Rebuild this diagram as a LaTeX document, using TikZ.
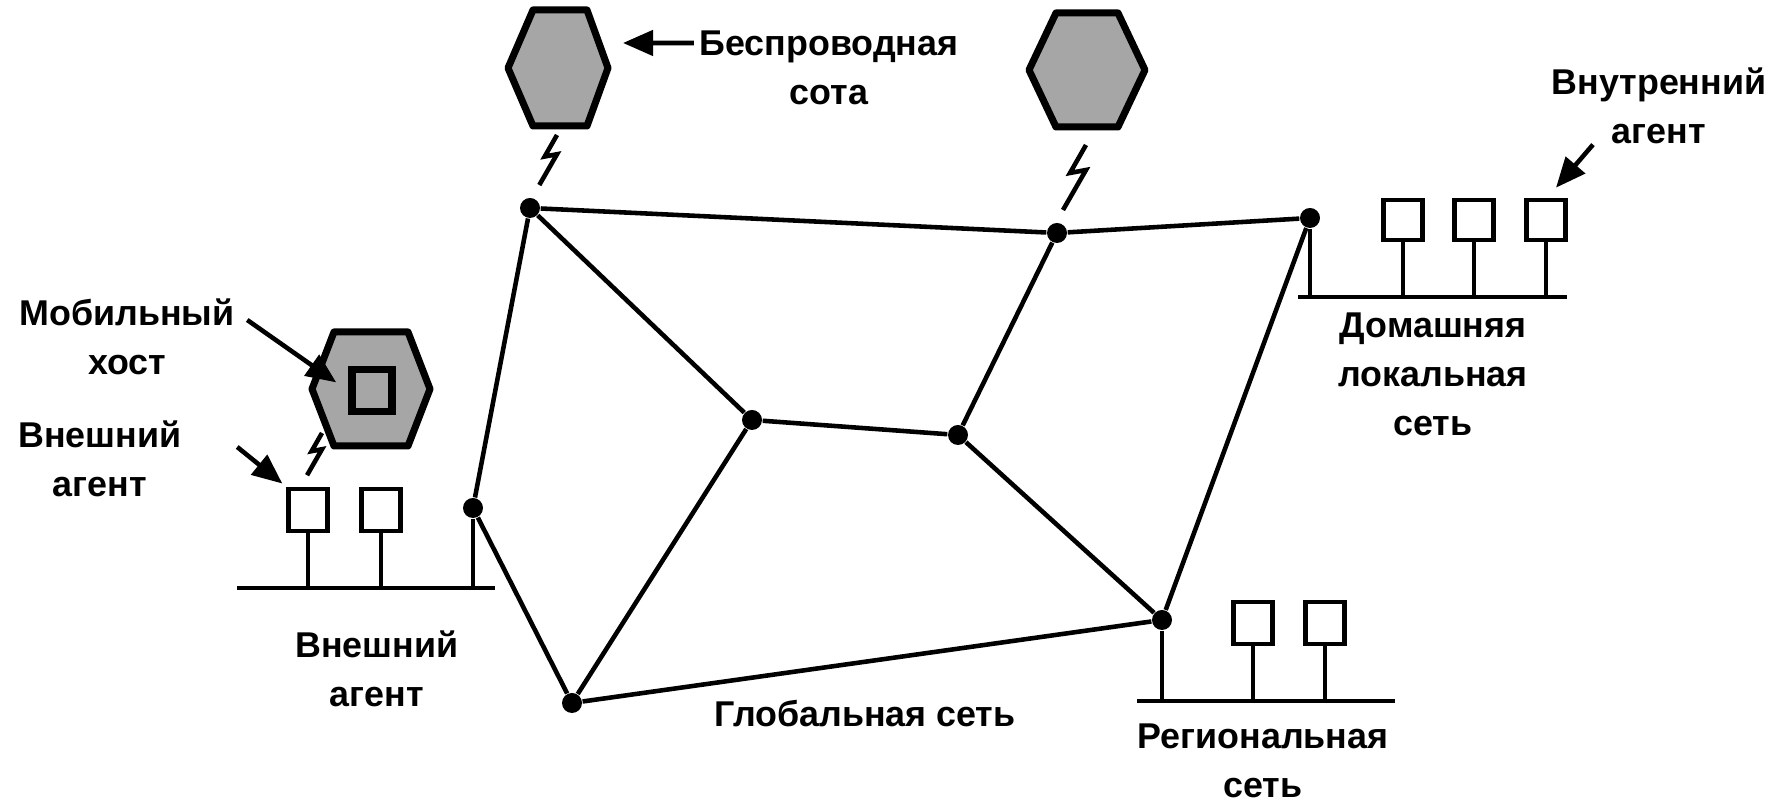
\documentclass[tikz,border=0pt]{standalone}
\usepackage{fontspec}
\setmainfont{Liberation Sans}
\usetikzlibrary{arrows.meta,positioning}

\begin{document}
\begin{tikzpicture}[
    router/.style={circle, fill=black, inner sep=0pt, minimum size=0.2cm},
    host/.style={rectangle, draw, line width=1.3pt, fill=white,
        minimum width=0.39cm, minimum height=0.42cm, inner sep=0pt},
    cell/.style={draw, line width=2pt, fill=black!35, line join=round},
    link/.style={line width=1.3pt},
    bus/.style={line width=1.4pt},
    lbl/.style={font=\fontsize{10.2}{14}\selectfont\bfseries, align=center,
        inner sep=0pt, anchor=north},
    arr/.style={-{Triangle[length=0.3cm, width=0.25cm]}, line width=1.3pt},
    bolt/.pic={\draw[line width=1.3pt] (0,0) -- (-0.16,-0.28) -- (0,-0.25) -- (-0.23,-0.65);}
]
    \useasboundingbox (0,0) rectangle (17.77,8.09);

    % Wireless cells
    \draw[cell] (5.08,7.41) -- (5.33,7.99) -- (5.87,7.99) -- (6.08,7.41) -- (5.87,6.83) -- (5.33,6.83) -- cycle;
    \draw[cell] (10.29,7.39) -- (10.56,7.96) -- (11.18,7.96) -- (11.45,7.39) -- (11.18,6.82) -- (10.56,6.82) -- cycle;
    \draw[cell] (3.12,4.20) -- (3.34,4.77) -- (4.08,4.77) -- (4.30,4.20) -- (4.08,3.63) -- (3.34,3.63) -- cycle;
    \node[host, fill=black!35, line width=2pt, minimum width=0.40cm] (mh) at (3.72,4.18) {};
    \pic[scale=0.77] at (5.57,6.74) {bolt};
    \pic at (10.86,6.64) {bolt};
    \pic[scale=0.65] at (3.22,3.76) {bolt};

    % Routers of the global network
    \node[router] (r1) at (5.30,6.01) {};
    \node[router] (r2) at (10.57,5.76) {};
    \node[router] (r3) at (13.10,5.91) {};
    \node[router] (r4) at (4.73,3.01) {};
    \node[router] (r5) at (7.52,3.89) {};
    \node[router] (r6) at (9.58,3.74) {};
    \node[router] (r7) at (5.72,1.06) {};
    \node[router] (r8) at (11.62,1.89) {};
    \draw[link] (r1) -- (r2) -- (r3);
    \draw[link] (r1) -- (r5) -- (r6) -- (r2);
    \draw[link] (r1) -- (r4) -- (r7) -- (r8) -- (r3);
    \draw[link] (r5) -- (r7);
    \draw[link] (r6) -- (r8);

    % Foreign LAN
    \coordinate (busF1) at (2.37,2.21);
    \coordinate (busF2) at (4.95,2.21);
    \draw[bus] (busF1) -- (busF2);
    \node[host] (h1) at (3.08,2.99) {};
    \node[host] (h2) at (3.81,2.99) {};
    \draw[link] (h1) -- (h1 |- busF1);
    \draw[link] (h2) -- (h2 |- busF1);
    \draw[link] (r4) -- (r4 |- busF1);

    % Home LAN
    \coordinate (busH1) at (12.98,5.12);
    \coordinate (busH2) at (15.67,5.12);
    \draw[bus] (busH1) -- (busH2);
    \node[host, minimum height=0.40cm] (h3) at (14.03,5.89) {};
    \node[host, minimum height=0.40cm] (h4) at (14.74,5.89) {};
    \node[host, minimum height=0.40cm] (h5) at (15.46,5.89) {};
    \draw[link] (h3) -- (h3 |- busH1);
    \draw[link] (h4) -- (h4 |- busH1);
    \draw[link] (h5) -- (h5 |- busH1);
    \draw[link] (r3) -- (r3 |- busH1);

    % Regional network
    \coordinate (busR1) at (11.37,1.08);
    \coordinate (busR2) at (13.95,1.08);
    \draw[bus] (busR1) -- (busR2);
    \node[host] (h6) at (12.53,1.86) {};
    \node[host] (h7) at (13.25,1.86) {};
    \draw[link] (h6) -- (h6 |- busR1);
    \draw[link] (h7) -- (h7 |- busR1);
    \draw[link] (r8) -- (r8 |- busR1);

    % Labels
    \node[lbl] (lblCell) at (8.29,7.79) {Беспроводная\\сота};
    \node[lbl] (lblHA) at (16.59,7.42) {Внутренний\\агент};
    \node[lbl] (lblHome) at (14.33,4.97) {Домашняя\\локальная\\сеть};
    \node[lbl] (lblMob) at (1.27,5.11) {Мобильный\\хост};
    \node[lbl] (lblFA) at (1.00,3.89) {Внешний\\агент};
    \node[lbl] (lblFA2) at (3.77,1.79) {Внешний\\агент};
    \node[lbl] (lblWan) at (8.65,1.09) {Глобальная сеть};
    \node[lbl] (lblReg) at (12.63,0.86) {Региональная\\сеть};

    % Pointers
    \coordinate (cellTip) at (6.23,7.66);
    \draw[arr] ([shift={(-0.05,-0.13)}]lblCell.north west) -- (cellTip);
    \draw[arr] ([xshift=-0.66cm]lblHA.south) -- ([shift={(0.10,0.10)}]h5.north);
    \draw[arr, shorten >=0.15cm] ([shift={(0.12,-0.22)}]lblMob.north east) -- (mh.west);
    \draw[arr, shorten >=0.05cm] ([shift={(0.55,-0.27)}]lblFA.north east) -- (h1.north west);
\end{tikzpicture}
\end{document}
